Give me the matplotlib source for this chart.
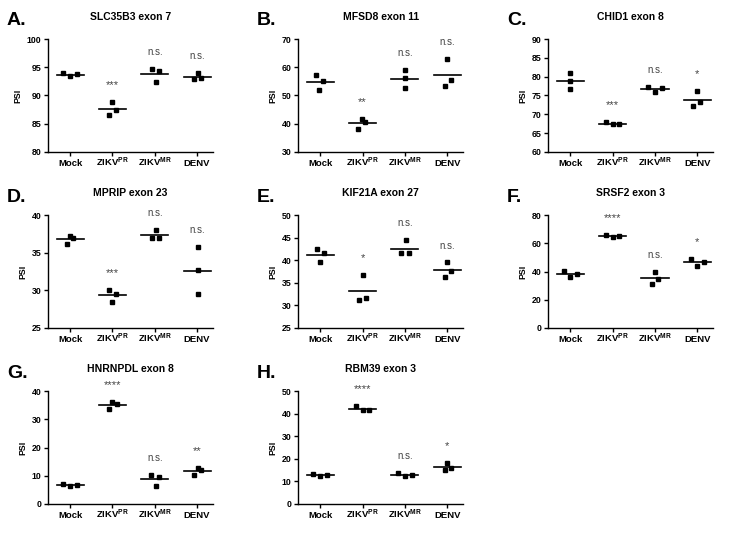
import matplotlib
matplotlib.use("Agg")
import matplotlib.pyplot as plt
import matplotlib.transforms as mtransforms
import numpy as np

plt.rcParams['font.family'] = ['Liberation Sans', 'DejaVu Sans']
plt.rcParams['mathtext.fontset'] = 'custom'
plt.rcParams['mathtext.rm'] = 'Liberation Sans:bold'
plt.rcParams['mathtext.bf'] = 'Liberation Sans:bold'

groups = ["Mock", r"ZIKV$^{\mathrm{PR}}$", r"ZIKV$^{\mathrm{MR}}$", "DENV"]

# PSI values, 3 replicates per group (Mock, ZIKV-PR, ZIKV-MR, DENV)
slc35b3 = [[93.9, 93.4, 93.85], [88.9, 87.4, 86.6], [94.7, 94.3, 92.4], [94.0, 92.9, 93.1]]
mfsd8 = [[57.2, 55.0, 52.1], [41.5, 40.7, 38.3], [59.0, 56.3, 52.7], [62.8, 55.4, 53.3]]
chid1 = [[81.0, 78.8, 76.8], [67.9, 67.3, 67.3], [77.3, 75.9, 76.9], [76.2, 73.3, 72.2]]
mprip = [[37.25, 37.0, 36.2], [30.1, 29.5, 28.4], [38.0, 37.0, 37.0], [35.7, 32.7, 29.5]]
kif21a = [[42.45, 41.7, 39.6], [36.7, 31.7, 31.2], [44.5, 41.6, 41.6], [39.5, 37.7, 36.3]]
srsf2 = [[40.2, 36.4, 37.9], [66.2, 64.3, 65.2], [39.8, 35.0, 31.4], [48.8, 46.9, 43.8]]
hnrnpdl = [[7.0, 6.5, 6.6], [36.3, 35.5, 33.8], [10.2, 9.6, 6.5], [12.8, 12.2, 10.2]]
rbm39 = [[13.4, 12.5, 12.95], [43.6, 41.5, 41.5], [13.8, 12.2, 12.95], [18.3, 16.1, 15.2]]

sig_slc35b3 = ["", "***", "n.s.", "n.s."]
sig_mfsd8 = ["", "**", "n.s.", "n.s."]
sig_chid1 = ["", "***", "n.s.", "*"]
sig_mprip = ["", "***", "n.s.", "n.s."]
sig_kif21a = ["", "*", "n.s.", "n.s."]
sig_srsf2 = ["", "****", "n.s.", "*"]
sig_hnrnpdl = ["", "****", "n.s.", "**"]
sig_rbm39 = ["", "****", "n.s.", "*"]

letters = ["A.", "B.", "C.", "D.", "E.", "F.", "G.", "H."]
titles = ["SLC35B3 exon 7", "MFSD8 exon 11", "CHID1 exon 8", "MPRIP exon 23",
          "KIF21A exon 27", "SRSF2 exon 3", "HNRNPDL exon 8", "RBM39 exon 3"]
values = [slc35b3, mfsd8, chid1, mprip, kif21a, srsf2, hnrnpdl, rbm39]
sigs = [sig_slc35b3, sig_mfsd8, sig_chid1, sig_mprip, sig_kif21a, sig_srsf2, sig_hnrnpdl, sig_rbm39]
yranges = [(80, 100, 5), (30, 70, 10), (60, 90, 5), (25, 40, 5),
           (25, 50, 5), (0, 80, 20), (0, 40, 10), (0, 50, 10)]

# horizontal spread of the dots inside each group (style only)
h = 0.16
spread = [
    [[-h, 0, h + 0.01], [0, 0.08, -0.08], [-0.06, 0.09, 0.02], [0.02, -0.08, 0.09]],
    [[-0.1, 0.06, -0.02], [-0.02, 0.06, -0.1], [0, 0, 0], [0, 0.08, -0.06]],
    [[0, 0, 0], [-h, 0, h], [-h, 0, h], [0, 0.06, -0.1]],
    [[0, 0.08, -0.08], [-0.08, 0.08, 0], [0.02, -0.06, 0.1], [0.02, 0.02, 0.02]],
    [[-0.08, 0.08, 0], [0, 0.08, -0.08], [0.02, -0.08, 0.1], [0, 0.08, -0.06]],
    [[-h, 0, h], [-h, 0, h], [0, 0.08, -0.08], [-h, h, 0]],
    [[-h, 0, h], [0, 0.1, -0.08], [-0.08, 0.1, 0.02], [0.02, 0.1, -0.08]],
    [[-h, 0, h], [-h, 0, h], [-h, 0, h], [0, 0.08, -0.06]],
]

fig = plt.figure(figsize=(7.4, 5.35), dpi=100)
lefts = [0.065, 0.403, 0.741]
bottoms = [0.716, 0.387, 0.058]
w, ht = 0.223, 0.211

for i in range(8):
    r, c = divmod(i, 3)
    ax = fig.add_axes([lefts[c], bottoms[r], w, ht])
    lo, hi, step = yranges[i]
    for g in range(4):
        vals = np.array(values[i][g])
        xs = g + np.array(spread[i][g])
        ax.plot(xs, vals, 's', color='black', markersize=3.3, clip_on=False, zorder=3)
        m = vals.mean()
        ax.plot([g - 0.32, g + 0.32], [m, m], color='black', lw=1.2, zorder=2)
        lab = sigs[i][g]
        if lab:
            fs = 7 if lab == "n.s." else 8
            ax.text(g, vals.max() + 0.15 * (hi - lo), lab, ha='center', va='center',
                    fontsize=fs, color='#444444', clip_on=False)
    ax.set_xlim(-0.52, 3.38)
    ax.set_ylim(lo, hi)
    ax.set_yticks(np.arange(lo, hi + step / 2, step))
    ax.set_xticks(range(4))
    ax.set_xticklabels([])
    # category labels on a common baseline
    trans = mtransforms.blended_transform_factory(ax.transData, ax.transAxes)
    for g, name in enumerate(groups):
        ax.text(g, -0.125, name, transform=trans, ha='center', va='baseline',
                fontsize=6.8, fontweight='bold')
    for lab in ax.get_yticklabels():
        lab.set_fontsize(6.3)
        lab.set_fontweight('bold')
    ax.set_ylabel("PSI", fontsize=6.3, fontweight='bold', labelpad=3)
    for s in ['top', 'right']:
        ax.spines[s].set_visible(False)
    for s in ['left', 'bottom']:
        ax.spines[s].set_linewidth(1.0)
    ax.tick_params(axis='both', direction='out', length=3, width=1.0, pad=2)
    ax.set_title(titles[i], fontsize=7.5, fontweight='bold', pad=14)
    ax.text(-0.25, 1.16, letters[i], transform=ax.transAxes, fontsize=14,
            fontweight='bold', ha='left', va='center')

fig.savefig("out.png", dpi=100)
